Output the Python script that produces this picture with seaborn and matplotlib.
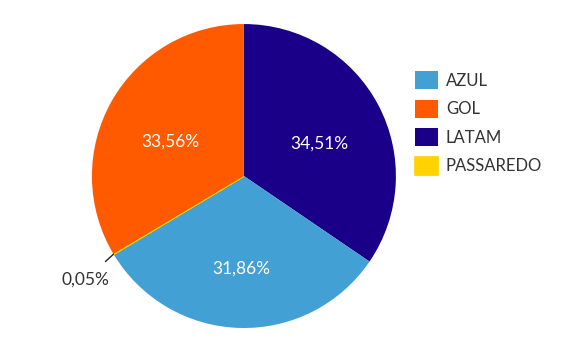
import numpy as np
import matplotlib
matplotlib.use('Agg')
import matplotlib.pyplot as plt
import seaborn as sns

# Data (clockwise from the top)
companies = ['LATAM', 'AZUL', 'PASSAREDO', 'GOL']
shares = [34.51, 31.86, 0.05, 33.56]
colors = ['#1a0088', '#42a0d4', '#ffd200', '#ff5a00']
legend_order = ['AZUL', 'GOL', 'LATAM', 'PASSAREDO']

sns.set_theme(style='white')
plt.rcParams['font.family'] = ['Lato', 'DejaVu Sans']

fig = plt.figure(figsize=(5.78, 3.51), dpi=100)
ax = fig.add_axes([0.159, 0.0655, 0.526, 0.866])


def fmt(v):
    return ('%.2f%%' % v).replace('.', ',')


wedges, _ = ax.pie(shares, colors=colors, startangle=90, counterclock=False,
                   wedgeprops=dict(linewidth=0))
ax.set_xlim(-1, 1)
ax.set_ylim(-1, 1)

# labels inside the big slices, written from the data
for w, v in zip(wedges, shares):
    if v < 1:
        continue
    a = np.deg2rad((w.theta1 + w.theta2) / 2)
    ax.text(0.56 * np.cos(a), 0.56 * np.sin(a) - 0.05, fmt(v),
            ha='center', va='center', color='white', fontsize=12.5)

# make the tiny slice visible
small = companies.index('PASSAREDO')
wedges[small].set_edgecolor(colors[small])
wedges[small].set_linewidth(1.2)

# outside label for the tiny slice
w = wedges[small]
ang = np.deg2rad((w.theta1 + w.theta2) / 2)
ax.annotate(fmt(shares[small]), xy=(np.cos(ang), np.sin(ang)),
            xytext=(-1.04, -0.68), ha='center', va='center',
            fontsize=12.5, color='#333333', annotation_clip=False,
            arrowprops=dict(arrowstyle='-', color='#222222', lw=1,
                            shrinkA=7, shrinkB=0))

handles = [wedges[companies.index(c)] for c in legend_order]
leg = fig.legend(handles, legend_order, loc='upper left',
                 bbox_to_anchor=(415 / 578, 1 - 71 / 351), frameon=False,
                 fontsize=12, handlelength=1.35, handleheight=1.3,
                 handletextpad=0.5, labelspacing=0.62, borderpad=0,
                 borderaxespad=0)
for t in leg.get_texts():
    t.set_color('#333333')

fig.savefig('out.png', dpi=100)
